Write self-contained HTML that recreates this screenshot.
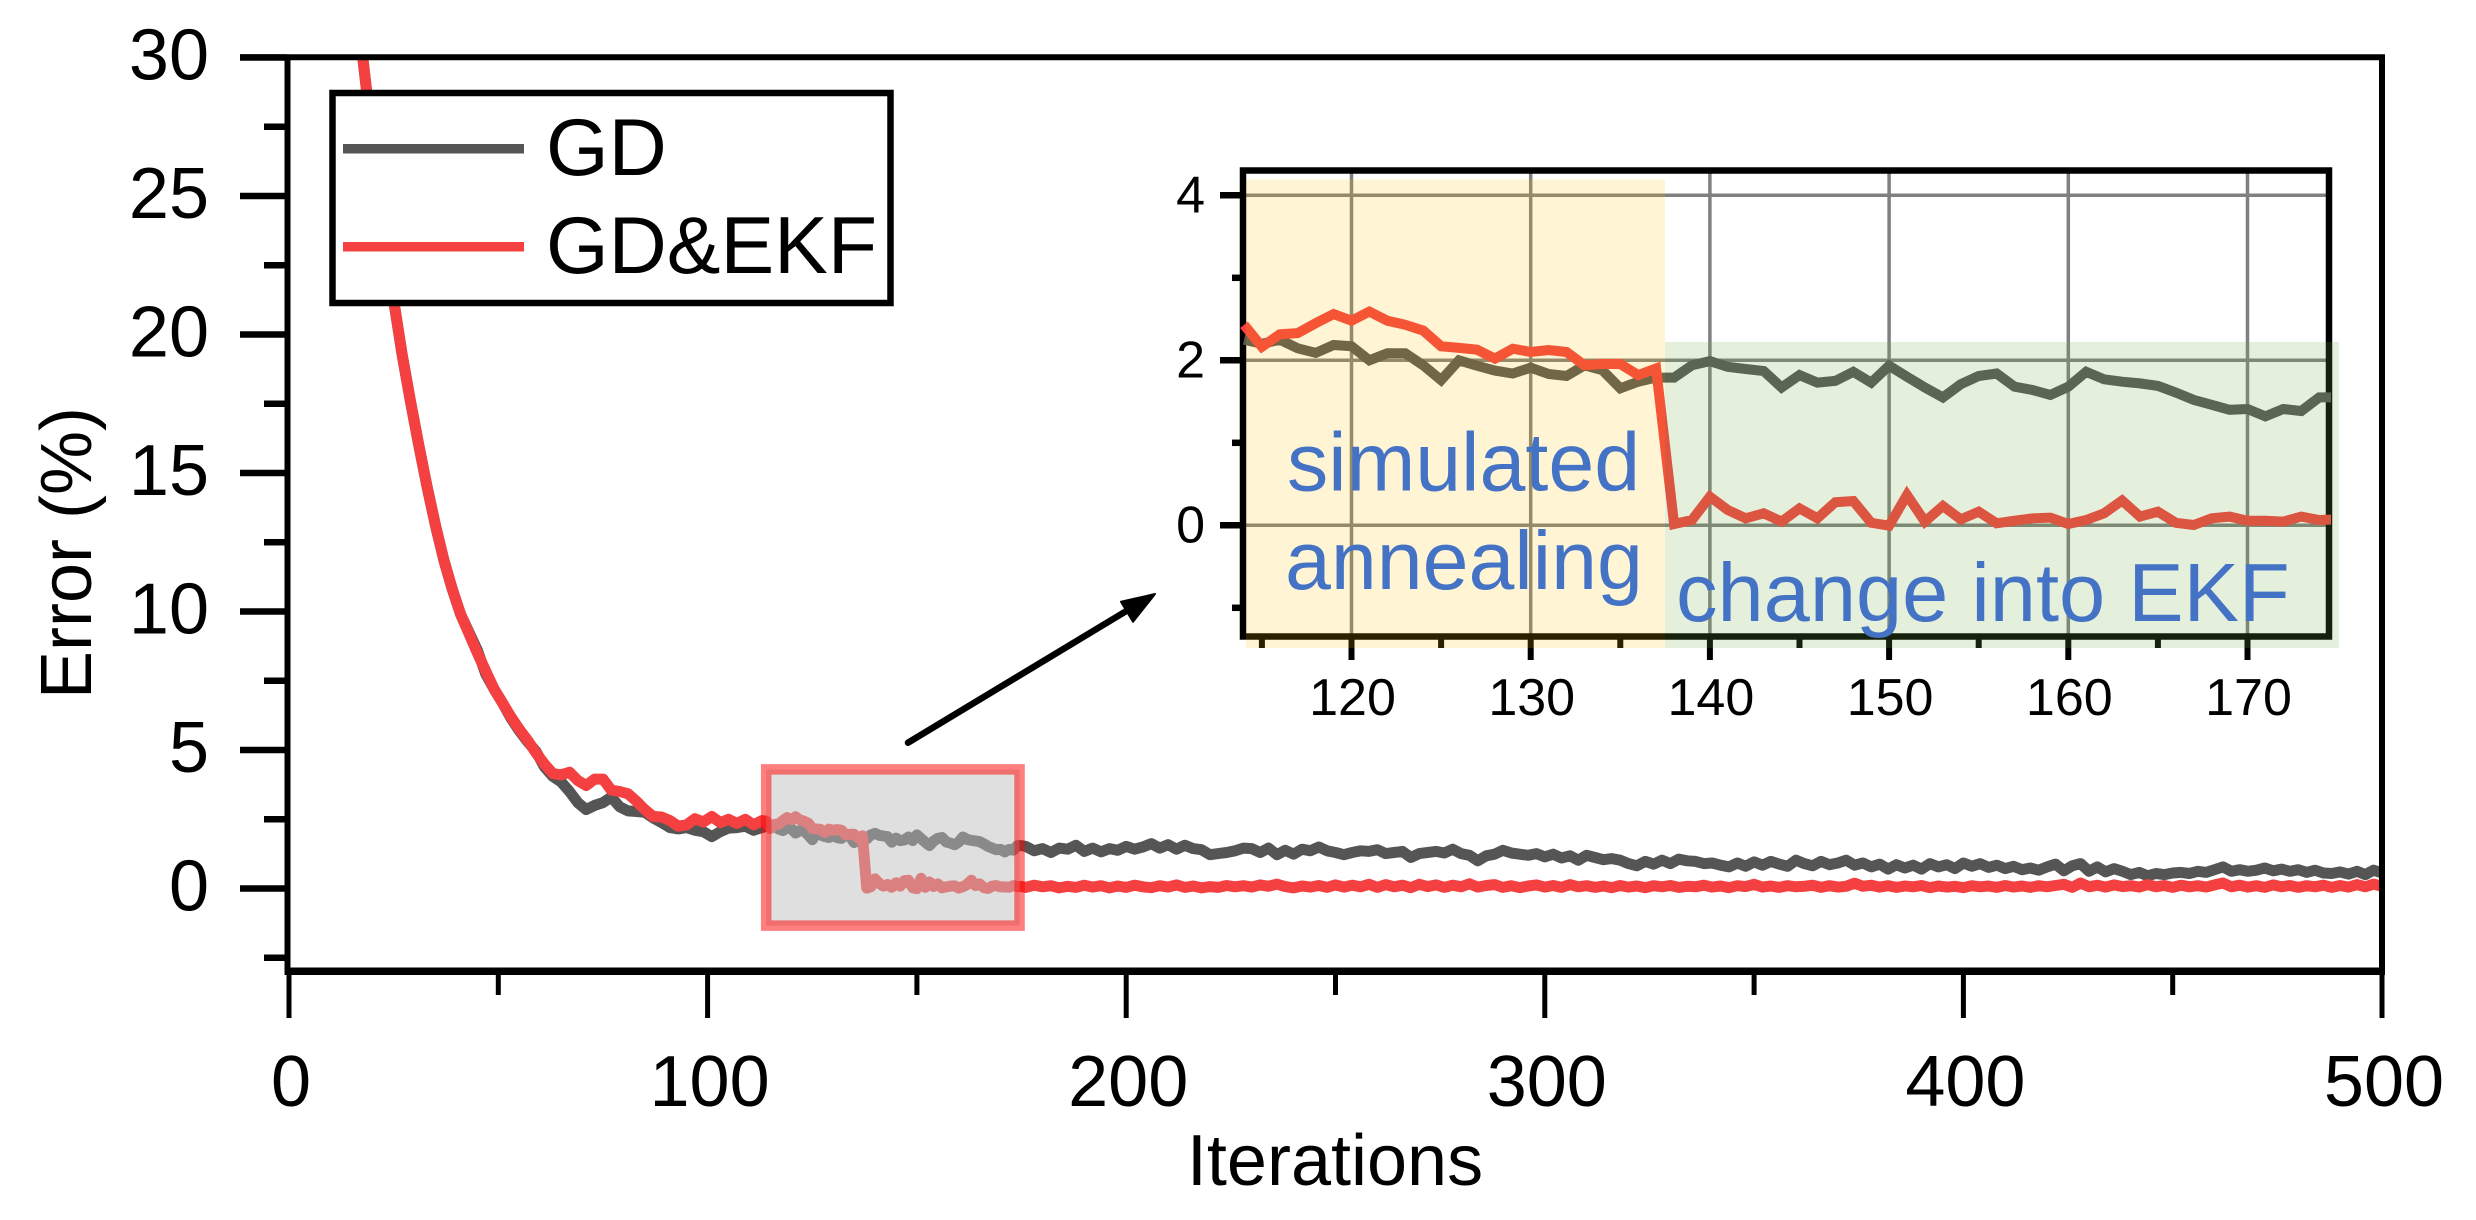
<!DOCTYPE html>
<html lang="en">
<head>
<meta charset="utf-8">
<title>Error vs Iterations</title>
<style>
html,body{margin:0;padding:0;background:#fff;width:2476px;height:1220px;overflow:hidden}
svg{display:block}
text{font-family:"Liberation Sans",Arial,sans-serif;fill:#000}
</style>
</head>
<body>
<svg id="root" xmlns="http://www.w3.org/2000/svg" width="2476" height="1220" viewBox="0 0 2476 1220">
<defs>
<clipPath id="main-clip"><rect x="287" y="57" width="2099" height="914"/></clipPath>
<clipPath id="inset-clip"><rect x="1240" y="170" width="1091" height="467"/></clipPath>
</defs>
<g id="main"></g>
<g id="inset"></g>
</svg>
<script>
// ---- data ----
const earlyIterations=[15,17,19,21,23,25,27,29,31,33,35,37,39,41,43,45,47,49,51,53,55,57,59,61,63,65,67,69,71,73,75,77,79,81,83,85,87,89,91,93,95,97,99,101,103,105,107,109,111,113];
const earlyGd=[33.5,30.8,28.2,25.7,23.4,21.25,19.3,17.6,16.0,14.5,13.1,11.85,10.8,9.9,9.25,8.6,7.75,7.2,6.7,6.15,5.7,5.3,4.95,4.4,4.05,3.85,3.5,3.1,2.85,3.0,3.1,3.3,2.95,2.8,2.78,2.75,2.55,2.38,2.2,2.15,2.2,2.1,2.05,1.87,2.05,2.18,2.2,2.25,2.1,2.2];
const earlyEkf=[33.5,30.8,28.2,25.7,23.4,21.25,19.3,17.6,16.0,14.5,13.1,11.85,10.8,9.9,9.2,8.5,7.85,7.2,6.7,6.2,5.75,5.35,4.9,4.5,4.15,4.1,4.2,3.9,3.72,3.95,3.95,3.55,3.5,3.42,3.15,2.85,2.6,2.58,2.45,2.25,2.3,2.52,2.4,2.6,2.38,2.5,2.35,2.5,2.3,2.45];

const zoomIterations=[114,115,116,117,118,119,120,121,122,123,124,125,126,127,128,129,130,131,132,133,134,135,136,137,138,139,140,141,142,143,144,145,146,147,148,149,150,151,152,153,154,155,156,157,158,159,160,161,162,163,164,165,166,167,168,169,170,171,172,173,174,175];
const zoomGd=[2.25,2.2,2.25,2.145,2.09,2.185,2.17,2.0,2.085,2.085,1.94,1.76,2.0,1.935,1.875,1.84,1.91,1.834,1.81,1.94,1.88,1.66,1.74,1.79,1.79,1.94,1.99,1.92,1.895,1.87,1.67,1.82,1.73,1.75,1.86,1.73,1.935,1.80,1.67,1.55,1.71,1.81,1.84,1.68,1.64,1.58,1.68,1.86,1.77,1.74,1.72,1.69,1.61,1.52,1.46,1.40,1.41,1.32,1.41,1.385,1.55,1.55];
const zoomEkf=[2.43,2.165,2.315,2.33,2.45,2.56,2.48,2.59,2.48,2.43,2.36,2.17,2.15,2.13,2.02,2.14,2.10,2.125,2.10,1.94,1.955,1.955,1.82,1.90,0.016,0.064,0.347,0.185,0.085,0.145,0.045,0.205,0.085,0.28,0.295,0.03,-0.005,0.367,0.045,0.234,0.072,0.165,0.024,0.056,0.085,0.093,0.016,0.064,0.145,0.30,0.105,0.165,0.03,0.004,0.085,0.105,0.056,0.056,0.045,0.105,0.064,0.072];

const lateIterations=[176,178,180,182,184,186,188,190,192,194,
196,198,200,202,204,206,208,210,212,214,
216,218,220,222,224,226,228,230,232,234,
236,238,240,242,244,246,248,250,252,254,
256,258,260,262,264,266,268,270,272,274,
276,278,280,282,284,286,288,290,292,294,
296,298,300,302,304,306,308,310,312,314,
316,318,320,322,324,326,328,330,332,334,
336,338,340,342,344,346,348,350,352,354,
356,358,360,362,364,366,368,370,372,374,
376,378,380,382,384,386,388,390,392,394,
396,398,400,402,404,406,408,410,412,414,
416,418,420,422,424,426,428,430,432,434,
436,438,440,442,444,446,448,450,452,454,
456,458,460,462,464,466,468,470,472,474,
476,478,480,482,484,486,488,490,492,494,
496,498,500];
const lateGd=[1.52,1.36,1.44,1.30,1.46,1.42,1.56,1.34,1.46,1.32,
1.44,1.38,1.52,1.42,1.50,1.62,1.46,1.58,1.42,1.56,
1.44,1.40,1.22,1.26,1.30,1.36,1.46,1.44,1.30,1.46,
1.22,1.38,1.24,1.42,1.36,1.50,1.36,1.30,1.22,1.30,
1.36,1.34,1.40,1.26,1.30,1.34,1.12,1.26,1.30,1.34,
1.28,1.42,1.26,1.20,1.00,1.18,1.24,1.38,1.28,1.24,
1.20,1.26,1.14,1.24,1.10,1.18,1.02,1.20,1.12,1.04,
1.08,1.02,.90,.82,.98,.88,1.02,.90,1.06,1.00,
.98,.90,.92,.84,.78,.92,.80,.96,.84,.98,
.88,.80,1.02,.90,.82,.98,.86,.92,1.02,.84,
.92,.78,.88,.70,.86,.74,.84,.70,.90,.78,
.86,.72,.92,.80,.90,.76,.84,.72,.80,.68,
.74,.66,.78,.88,.64,.82,.90,.62,.78,.60,
.72,.62,.50,.58,.46,.54,.50,.56,.58,.54,
.62,.58,.68,.78,.62,.68,.62,.66,.74,.64,
.70,.62,.68,.58,.66,.56,.54,.60,.52,.62,
.50,.66,.56];
const lateEkf=[.04,.12,.06,.10,.02,.08,.04,.12,.05,.10,
.02,.09,.04,.12,.06,.03,.10,.05,.13,.04,
.09,.02,.07,.04,.11,.06,.10,.05,.13,.08,
.16,.07,.02,.09,.05,.11,.04,.13,.05,.12,
.06,.15,.04,.14,.06,.12,.03,.15,.07,.13,
.04,.12,.06,.17,.05,.11,.14,.04,.10,.03,
.09,.13,.05,.11,.04,.14,.06,.10,.04,.09,
.03,.11,.05,.09,.03,.10,.06,.11,.04,.08,
.06,.12,.05,.09,.03,.10,.07,.15,.05,.09,
.04,.10,.06,.08,.12,.04,.10,.05,.08,.19,
.08,.12,.05,.10,.04,.09,.06,.11,.03,.09,
.05,.08,.03,.10,.06,.09,.04,.11,.05,.09,
.04,.10,.06,.11,.15,.04,.20,.06,.12,.05,
.13,.07,.10,.05,.14,.06,.11,.04,.12,.06,
.10,.05,.13,.20,.06,.12,.05,.10,.04,.13,
.06,.11,.04,.10,.06,.12,.04,.11,.05,.14,
.06,.16,.08];

const mainXTicks=[0,100,200,300,400,500];
const mainXMinorTicks=[50,150,250,350,450];
const mainYTicks=[0,5,10,15,20,25,30];
const mainYMinorTicks=[-2.5,2.5,7.5,12.5,17.5,22.5,27.5];
const insetXTicks=[120,130,140,150,160,170];
const insetXMinorTicks=[115,125,135,145,155,165];
const insetYTicks=[0,2,4];
const insetYMinorTicks=[-1,1,3];
const legendLabels=['GD','GD&EKF'];

// ---- axis functions ----
const mx=v=>289+4.186*v;
const my=v=>888.5-27.7*v;
const ix=v=>1351.5+17.92*(v-120);
const iy=v=>525.3-82.5*v;

const NS='http://www.w3.org/2000/svg';
const mainG=document.getElementById('main');
const insetG=document.getElementById('inset');
function mk(parent,tag,attrs,txt){
  const e=document.createElementNS(NS,tag);
  for(const k in attrs)e.setAttribute(k,attrs[k]);
  if(txt!==undefined)e.textContent=txt;
  parent.appendChild(e);
  return e;
}
function pathOf(xs,ys,fx,fy){
  return xs.map((v,i)=>(i?'L':'M')+fx(v).toFixed(1)+' '+fy(ys[i]).toFixed(1)).join('');
}
let el;

// ---- full series ----
const allIterations=earlyIterations.concat(zoomIterations,lateIterations);
const allGd=earlyGd.concat(zoomGd,lateGd);
const allEkf=earlyEkf.concat(zoomEkf,lateEkf);

// main series
const mainLines=mk(mainG,'g',{'clip-path':'url(#main-clip)'});


el=mk(mainLines,'path',{d:pathOf(allIterations,allGd,mx,my),fill:'none',stroke:'#555555','stroke-width':11,'stroke-linejoin':'round'});


el=mk(mainLines,'path',{d:pathOf(allIterations,allEkf,mx,my),fill:'none',stroke:'#f44040','stroke-width':11,'stroke-linejoin':'round'});



// main frame
el=mk(mainG,'line',{x1:240,x2:2385,y1:57.3,y2:57.3,stroke:'#000','stroke-width':6});


el=mk(mainG,'line',{x1:285,x2:2385,y1:971.3,y2:971.3,stroke:'#000','stroke-width':7.5});


el=mk(mainG,'line',{x1:287.5,x2:287.5,y1:57,y2:975,stroke:'#000','stroke-width':6});


el=mk(mainG,'line',{x1:2382,x2:2382,y1:57,y2:975,stroke:'#000','stroke-width':6});



// main y ticks
mainYTicks.forEach(v=>{
  const t=mk(mainG,'line',{x1:240,x2:287,y1:my(v),y2:my(v),stroke:'#000','stroke-width':6.5});
  
  
  const l=mk(mainG,'text',{x:209,y:my(v)+22,'text-anchor':'end','font-size':72},String(v));
  
  
});
mainYMinorTicks.forEach(v=>{
  const t=mk(mainG,'line',{x1:264,x2:287,y1:my(v),y2:my(v),stroke:'#000','stroke-width':6.5});
  
  
});
// main x ticks
mainXTicks.forEach(v=>{
  const t=mk(mainG,'line',{x1:mx(v),x2:mx(v),y1:971,y2:1018,stroke:'#000','stroke-width':5});
  
  
  const l=mk(mainG,'text',{x:mx(v)+2,y:1106,'text-anchor':'middle','font-size':72},String(v));
  
  
});
mainXMinorTicks.forEach(v=>{
  const t=mk(mainG,'line',{x1:mx(v),x2:mx(v),y1:971,y2:995,stroke:'#000','stroke-width':5});
  
  
});
// axis titles
el=mk(mainG,'text',{x:1335,y:1185,'text-anchor':'middle','font-size':72},'Iterations');


el=mk(mainG,'text',{x:0,y:0,'text-anchor':'middle','font-size':72,transform:'translate(91 553) rotate(-90)'},'Error (%)');



// zoom region marker
el=mk(mainG,'rect',{x:mx(114),y:my(4.3),width:mx(175)-mx(114)-2,height:my(-1.34)-my(4.3),fill:'#bfbfbf','fill-opacity':.5,stroke:'#ff0000','stroke-opacity':.5,'stroke-width':10.5});



// arrow
el=mk(mainG,'line',{x1:908,y1:742.7,x2:1128,y2:610,stroke:'#000','stroke-width':6.5,'stroke-linecap':'round'});


el=mk(mainG,'polygon',{points:'1155,594 1133,621.7 1121,601.7',fill:'#000',stroke:'#000','stroke-width':2,'stroke-linejoin':'round'});



// legend
const legend=mk(mainG,'g',{});


el=mk(legend,'rect',{x:332.5,y:93,width:558,height:210,fill:'#fff',stroke:'#000','stroke-width':6.5});


el=mk(legend,'line',{x1:343,x2:524,y1:148.7,y2:148.7,stroke:'#555555','stroke-width':9.5});


el=mk(legend,'text',{x:546,y:175,'font-size':80.5},legendLabels[0]);


el=mk(legend,'line',{x1:343,x2:524,y1:246.7,y2:246.7,stroke:'#f44040','stroke-width':9.5});


el=mk(legend,'text',{x:546,y:273,'font-size':80.5},legendLabels[1]);



// ---- inset ----
insetXTicks.forEach(v=>{
  const t=mk(insetG,'line',{x1:ix(v),x2:ix(v),y1:170,y2:636,stroke:'#808080','stroke-width':3.5});
  
  
});
insetYTicks.forEach(v=>{
  const t=mk(insetG,'line',{x1:1243,x2:2329,y1:iy(v),y2:iy(v),stroke:'#808080','stroke-width':3.5});
  
  
});
el=mk(insetG,'rect',{x:1243,y:170.5,width:1086,height:466,fill:'none',stroke:'#000','stroke-width':6.5});


insetYTicks.forEach(v=>{
  const t=mk(insetG,'line',{x1:1220,x2:1241,y1:iy(v),y2:iy(v),stroke:'#000','stroke-width':6.5});
  
  
  const l=mk(insetG,'text',{x:1205,y:iy(v)+17,'text-anchor':'end','font-size':52},String(v));
  
  
});
insetYMinorTicks.forEach(v=>{
  const t=mk(insetG,'line',{x1:1232,x2:1241,y1:iy(v),y2:iy(v),stroke:'#000','stroke-width':6.5});
  
  
});
insetXTicks.forEach(v=>{
  const t=mk(insetG,'line',{x1:ix(v),x2:ix(v),y1:636,y2:660,stroke:'#000','stroke-width':6});
  
  
  const l=mk(insetG,'text',{x:ix(v)+1,y:715,'text-anchor':'middle','font-size':52},String(v));
  
  
});
insetXMinorTicks.forEach(v=>{
  const t=mk(insetG,'line',{x1:ix(v),x2:ix(v),y1:636,y2:648,stroke:'#000','stroke-width':6});
  
  
});
const insetLines=mk(insetG,'g',{'clip-path':'url(#inset-clip)'});


el=mk(insetLines,'path',{d:pathOf(zoomIterations,zoomGd,ix,iy),fill:'none',stroke:'#555555','stroke-width':10,'stroke-linejoin':'miter'});


el=mk(insetLines,'path',{d:pathOf(zoomIterations,zoomEkf,ix,iy),fill:'none',stroke:'#f44040','stroke-width':10,'stroke-linejoin':'miter'});



// translucent shaded phases
el=mk(insetG,'rect',{x:1246,y:179.5,width:419,height:468.5,fill:'#ffc000','fill-opacity':.17});


el=mk(insetG,'rect',{x:1665,y:342,width:674,height:306,fill:'#70ad47','fill-opacity':.19});



// phase annotations
el=mk(insetG,'text',{x:1287,y:490.7,'font-size':82.5,style:'fill:#4472c4'},'simulated');


el=mk(insetG,'text',{x:1285,y:589,'font-size':82.5,style:'fill:#4472c4'},'annealing');


el=mk(insetG,'text',{x:1676,y:621,'font-size':83,style:'fill:#4472c4'},'change into EKF');


</script>
</body>
</html>
